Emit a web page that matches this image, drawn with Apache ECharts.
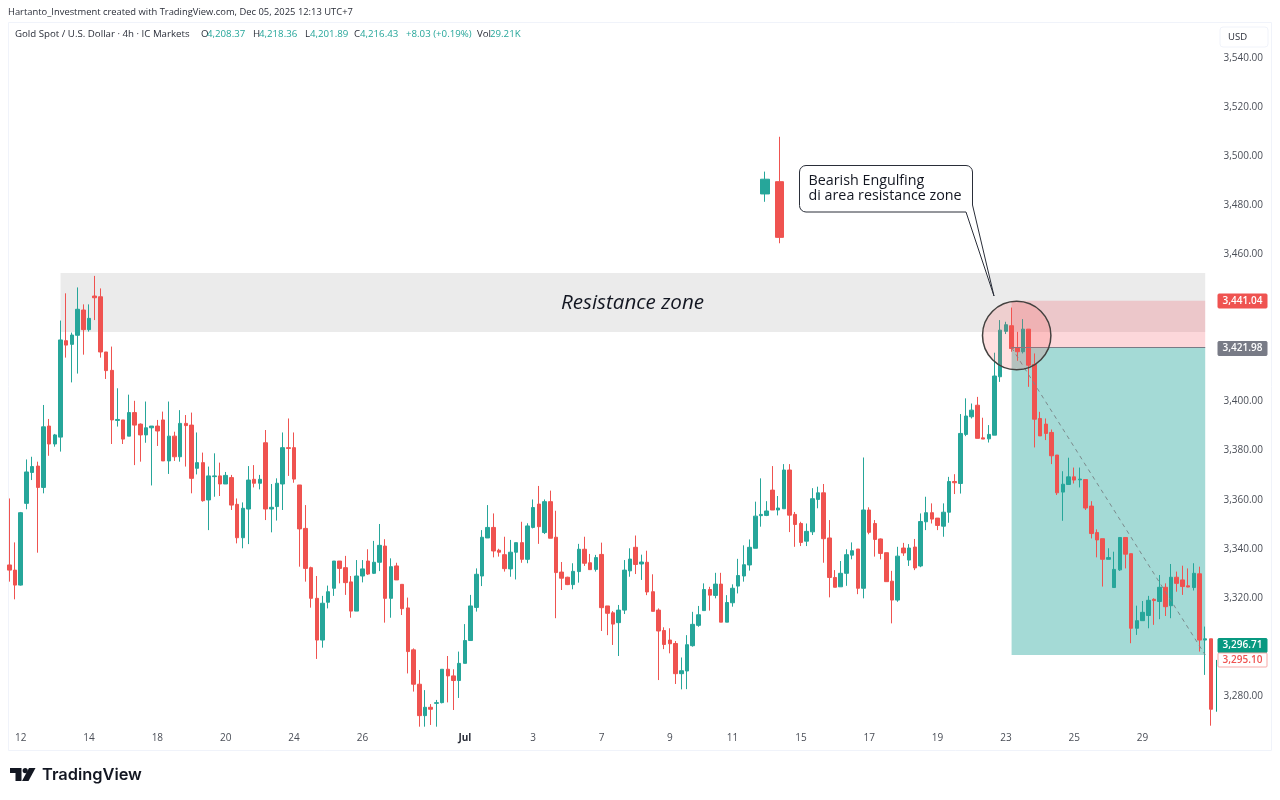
<!DOCTYPE html>
<html>
<head>
<meta charset="utf-8">
<title>Gold Spot / U.S. Dollar</title>
<script src="https://cdn.jsdelivr.net/npm/echarts@6/dist/echarts.min.js"></script>
<style>
	html, body { margin: 0; padding: 0; background: #fff; }
	#chart { width: 1280px; height: 800px; }
</style>
</head>
<body>
<div id="chart"></div>
<script>
const opens = [
	3333.4,3331.3,3325.2,3358.5,3371.1,3373.7,3365.0,3390.0,3382.7,3385.5,
	3424.8,3423.3,3427.0,3437.3,3429.3,3443.0,3442.7,3420.2,3412.7,3392.3,
	3392.5,3385.9,3395.5,3390.8,3386.4,3389.3,3390.0,3392.5,3375.8,3385.9,
	3377.5,3391.1,3390.4,3372.8,3375.1,3359.9,3369.4,3369.7,3366.4,3369.0,
	3358.1,3344.5,3356.2,3368.3,3366.7,3383.2,3356.2,3357.2,3366.4,3381.2,
	3381.2,3366.0,3348.3,3332.3,3319.8,3302.8,3318.2,3323.9,3335.0,3332.3,
	3326.5,3314.6,3328.9,3335.0,3330.0,3334.5,3341.1,3319.8,3333.0,3325.5,
	3315.9,3298.8,3284.8,3272.0,3275.4,3277.0,3277.3,3290.9,3288.2,3286.3,
	3293.3,3302.6,3316.1,3328.9,3344.4,3348.7,3339.4,3337.6,3331.8,3338.6,
	3342.5,3335.7,3348.7,3358.2,3346.6,3359.2,3344.7,3330.5,3328.4,3325.4,
	3330.7,3339.8,3334.3,3331.6,3337.7,3316.7,3313.9,3309.9,3315.0,3331.0,
	3340.6,3333.8,3334.5,3322.5,3315.0,3306.7,3302.8,3301.4,3289.1,3290.2,
	3300.5,3308.8,3314.8,3323.4,3321.0,3325.6,3310.1,3318.0,3324.8,3328.9,
	3333.4,3340.2,3353.5,3353.6,3363.9,3355.8,3356.3,3372.1,3354.0,3350.3,
	3343.1,3346.9,3360.1,3362.8,3344.4,3328.3,3324.5,3330.0,3337.4,3339.9,
	3323.9,3355.8,3350.3,3344.0,3338.4,3326.8,3319.1,3340.3,3335.4,3340.7,
	3333.0,3351.0,3354.7,3352.5,3349.2,3354.9,3367.4,3366.6,3386.6,3393.8,
	3398.5,3385.2,3384.8,3386.3,3410.1,3428.6,3430.9,3421.9,3420.3,3429.5,
	3415.1,3393.1,3390.8,3387.4,3378.2,3363.1,3366.2,3369.3,3368.1,3368.2,
	3357.4,3346.6,3344.1,3335.7,3324.2,3331.4,3344.6,3338.0,3307.6,3310.7,
	3312.8,3319.4,3318.5,3324.3,3316.8,3328.4,3327.3,3324.9,3324.2,3329.8,
	3302.8,3303.3
]
const closes = [
	3331.3,3325.2,3354.7,3371.3,3373.5,3365.0,3389.7,3382.7,3386.4,3425.1,
	3423.0,3427.1,3437.6,3429.3,3433.9,3442.3,3420.2,3412.6,3392.5,3392.7,
	3384.7,3395.5,3390.4,3386.4,3389.3,3390.0,3388.0,3375.8,3385.9,3377.5,
	3391.1,3390.2,3368.7,3375.1,3359.6,3369.7,3369.7,3366.4,3369.9,3357.8,
	3344.5,3356.5,3368.0,3366.7,3368.3,3356.2,3356.9,3366.7,3381.2,3380.9,
	3368.4,3348.1,3332.0,3319.8,3302.8,3317.8,3322.5,3335.0,3332.0,3326.2,
	3314.6,3328.9,3331.8,3329.7,3334.5,3341.4,3319.8,3332.7,3327.3,3315.6,
	3298.1,3284.8,3272.0,3275.4,3274.6,3277.3,3290.9,3288.2,3286.3,3293.3,
	3302.6,3316.7,3329.6,3344.7,3348.7,3339.1,3338.6,3331.9,3338.6,3342.5,
	3335.7,3349.3,3356.8,3349.0,3359.2,3344.3,3330.3,3328.0,3325.4,3330.8,
	3339.8,3334.1,3331.5,3336.4,3316.0,3313.7,3309.3,3315.0,3331.3,3335.8,
	3333.6,3334.6,3322.4,3314.5,3306.5,3301.0,3301.3,3289.1,3290.3,3300.9,
	3309.2,3313.1,3323.4,3321.1,3325.6,3310.1,3318.1,3323.9,3329.1,3333.5,
	3340.6,3353.3,3354.0,3355.4,3355.8,3356.6,3372.1,3353.7,3349.9,3342.6,
	3347.1,3360.4,3362.8,3344.1,3328.3,3324.3,3330.0,3337.6,3339.2,3323.9,
	3355.8,3346.7,3343.8,3338.1,3326.6,3319.1,3337.0,3338.3,3340.3,3332.2,
	3351.1,3354.7,3352.1,3349.5,3354.9,3367.4,3366.9,3387.0,3394.1,3396.5,
	3385.0,3384.7,3386.6,3410.4,3429.1,3431.3,3421.6,3420.3,3429.5,3414.8,
	3392.8,3386.0,3387.0,3377.9,3362.8,3366.3,3369.3,3368.0,3368.4,3356.6,
	3346.2,3343.6,3335.7,3336.4,3331.6,3344.6,3337.8,3307.6,3310.7,3314.1,
	3319.0,3318.9,3324.3,3316.4,3328.4,3325.9,3324.6,3324.4,3330.0,3302.8,
	3303.3,3274.6
]
const highs = [
	3360.5,3342.6,3355.0,3376.4,3377.5,3375.5,3398.6,3392.9,3386.8,3433.0,
	3444.1,3428.1,3446.5,3439.6,3439.6,3451.2,3446.1,3420.2,3422.4,3405.4,
	3392.5,3402.8,3400.3,3391.1,3400.0,3390.0,3392.5,3395.9,3400.0,3387.7,
	3396.5,3394.5,3395.5,3387.4,3379.2,3373.5,3378.9,3375.1,3371.3,3370.1,
	3360.5,3358.9,3373.7,3374.1,3370.1,3388.4,3366.4,3368.7,3387.4,3393.1,
	3387.4,3366.0,3357.8,3332.7,3328.9,3320.8,3325.0,3335.0,3335.0,3337.1,
	3328.9,3335.4,3335.4,3339.8,3343.2,3350.1,3343.9,3336.1,3334.3,3325.5,
	3320.1,3299.4,3290.6,3282.4,3276.7,3278.4,3290.9,3296.3,3290.9,3298.1,
	3309.3,3321.2,3332.0,3347.6,3357.8,3354.4,3340.0,3344.9,3343.6,3342.5,
	3351.0,3350.4,3360.1,3365.6,3360.1,3363.7,3355.5,3334.6,3328.6,3334.1,
	3342.0,3344.9,3337.9,3337.5,3342.5,3316.7,3314.6,3317.1,3335.4,3340.2,
	3345.4,3337.6,3339.2,3329.6,3315.7,3308.0,3307.6,3302.4,3295.7,3304.8,
	3314.3,3316.7,3325.9,3324.5,3330.2,3330.2,3321.1,3325.5,3335.9,3341.4,
	3343.8,3359.2,3368.7,3359.4,3373.7,3361.5,3374.5,3374.5,3355.0,3351.0,
	3350.3,3364.7,3365.3,3366.4,3351.7,3331.3,3335.0,3339.8,3342.6,3339.9,
	3377.2,3356.9,3351.7,3344.2,3338.4,3331.0,3340.8,3342.4,3341.9,3344.0,
	3354.4,3361.2,3358.5,3352.5,3358.5,3369.3,3370.4,3394.9,3401.3,3399.2,
	3401.9,3393.4,3390.4,3419.9,3433.2,3432.5,3438.3,3428.4,3433.6,3429.5,
	3419.6,3395.8,3393.1,3388.6,3378.2,3371.6,3377.1,3373.1,3373.1,3368.2,
	3359.4,3347.9,3344.1,3340.2,3338.8,3344.6,3344.6,3338.0,3316.8,3318.7,
	3320.8,3319.8,3329.3,3325.9,3333.8,3330.7,3333.1,3332.0,3334.1,3332.7,
	3308.3,3303.3
]
const lows = [
	3326.6,3319.4,3325.0,3356.1,3368.0,3338.4,3362.6,3377.9,3381.6,3379.6,
	3417.9,3407.8,3411.4,3419.1,3428.5,3433.2,3417.9,3409.2,3382.7,3389.8,
	3382.7,3385.9,3374.1,3375.5,3383.2,3365.8,3381.9,3375.8,3370.5,3375.8,
	3375.5,3373.5,3362.6,3370.3,3359.2,3347.6,3361.2,3361.5,3366.4,3355.8,
	3342.2,3340.2,3341.9,3365.0,3364.2,3351.7,3346.7,3351.5,3355.8,3369.7,
	3366.9,3332.7,3326.6,3316.0,3295.1,3299.7,3315.7,3320.8,3325.9,3321.2,
	3311.9,3314.6,3326.3,3329.3,3329.7,3330.9,3309.9,3311.9,3327.3,3313.0,
	3289.2,3281.8,3267.5,3267.5,3268.2,3267.5,3277.0,3277.4,3274.3,3279.2,
	3293.3,3302.6,3314.4,3324.8,3344.4,3336.5,3336.8,3330.7,3328.6,3327.5,
	3334.3,3334.1,3348.3,3342.0,3346.0,3344.3,3311.7,3323.2,3325.2,3323.5,
	3326.2,3333.0,3331.5,3330.7,3306.5,3304.8,3300.8,3296.3,3313.4,3328.6,
	3329.7,3327.3,3321.1,3314.5,3286.5,3299.1,3297.4,3284.9,3282.7,3282.8,
	3300.1,3308.2,3314.8,3314.8,3319.8,3310.1,3310.1,3316.4,3321.8,3326.6,
	3331.1,3340.2,3349.0,3353.3,3355.8,3353.6,3356.3,3346.8,3340.8,3341.1,
	3341.1,3345.6,3356.5,3334.3,3320.2,3324.3,3324.5,3324.9,3335.7,3321.5,
	3319.8,3345.9,3336.8,3335.7,3326.6,3309.6,3318.4,3337.1,3333.0,3331.3,
	3332.5,3347.6,3350.3,3347.6,3344.9,3350.6,3362.3,3362.5,3385.9,3393.1,
	3385.0,3384.7,3383.3,3386.3,3408.0,3427.5,3420.3,3416.6,3419.6,3406.0,
	3381.3,3386.0,3384.3,3374.5,3361.9,3351.4,3366.2,3366.6,3365.0,3355.8,
	3344.2,3336.5,3324.6,3335.7,3324.2,3331.0,3332.0,3301.5,3304.9,3310.7,
	3307.6,3309.0,3311.3,3312.6,3311.7,3322.5,3321.2,3324.3,3323.0,3298.1,
	3288.6,3267.9
]
// the bar still forming at the right edge is only a thin line in the picture
const lastBar = [3273.6, 3294.7, 3273.6, 3294.7]

const tickBars = [2, 14, 26, 38, 50, 62, 80, 92, 104, 116, 127, 139, 151, 163, 175, 187, 199]
const tickLabels = ['12', '14', '18', '20', '24', '26', 'Jul', '3', '7', '9', '11', '15', '17', '19', '23', '25', '29']

// the two candles drawn by hand above the zone
const insetOpens = [3484.6, 3489.6]
const insetCloses = [3490.6, 3466.9]
const insetLows = [3481.4, 3464.5]
const insetHighs = [3493.7, 3507.9]

const zoneTop = 3452.4
const zoneBottom = 3428.3
const stopPrice = 3441.04
const entryPrice = 3421.98
const targetPrice = 3296.71
const entryBar = 176
const exitBar = 210
const zoneStartBar = 9

const priceMin = 3260
const priceMax = 3560

const up = '#26a69a'
const down = '#ef5350'
const font = '"Open Sans", sans-serif'

const barCount = opens.length + 1
const categories = []
for (let i = 0; i < barCount; i++) {
	const at = tickBars.indexOf(i)
	categories.push(at === -1 ? '' : tickLabels[at])
}

function text(x, y, value, fill, size, extra) {
	return {
		type: 'text',
		silent: true,
		z: 20,
		style: Object.assign({
			x, y,
			text: value,
			fill: fill || '#2a2e39',
			fontSize: size || 10,
			fontFamily: font,
			verticalAlign: 'middle'
		}, extra)
	}
}

function priceTag(y, value, fill, stroke, color) {
	return [{
		type: 'rect',
		silent: true,
		z: 19,
		shape: { x: 1218, y: y - 7, width: 49, height: 14, r: 1 },
		style: { fill, stroke, lineWidth: 1 }
	}, text(1242.5, y, value, color, 10, { align: 'center', fontWeight: 600 })]
}

// quarter circle of points for the callout corners
function corner(cx, cy, r, from) {
	const points = []
	for (let i = 0; i <= 4; i++) {
		const a = (from + i * 22.5) * Math.PI / 180
		points.push([cx + r * Math.cos(a), cy + r * Math.sin(a)])
	}
	return points
}

const calloutPoints = [
	...corner(806, 172, 6.5, 180),
	...corner(966, 172, 6.5, 270),
	[972.5, 205], [994, 296], [966, 212],
	...corner(806, 205.5, 6.5, 90)
]

const legendValues = [
	[201, 'O', '#2a2e39'], [207, '4,208.37', up],
	[253, 'H', '#2a2e39'], [259, '4,218.36', up],
	[305, 'L', '#2a2e39'], [310, '4,201.89', up],
	[354, 'C', '#2a2e39'], [360, '4,216.43', up],
	[406, '+8.03 (+0.19%)', up],
	[477, 'Vol', '#2a2e39'], [490, '29.21K', up]
]

const graphics = [
	{
		type: 'rect', silent: true, z: 0,
		shape: { x: 8.5, y: 22.5, width: 1263, height: 728 },
		style: { fill: 'none', stroke: '#f0f3fa', lineWidth: 1 }
	},
	{
		type: 'rect', silent: true, z: 20,
		shape: { x: 1220, y: 27, width: 48, height: 20, r: 3 },
		style: { fill: '#fff', stroke: '#f0f3fa', lineWidth: 1 }
	},
	text(1228, 37.5, 'USD', '#2a2e39', 9.5),
	text(8, 12.5, 'Hartanto_Investment created with TradingView.com, Dec 05, 2025 12:13 UTC+7', '#2a2e39', 9.4),
	text(15, 34.5, 'Gold Spot / U.S. Dollar · 4h · IC Markets', '#2a2e39', 9.7),
	text(561, 303.5, 'Resistance zone', '#131722', 20.6, { fontStyle: 'italic' }),
	{
		// the circle around the engulfing candles
		type: 'circle', silent: true, z: 18,
		shape: { cx: 1016.7, cy: 335.5, r: 34.2 },
		style: { fill: 'rgba(255,82,82,0.18)', stroke: '#43413f', lineWidth: 1.5 }
	},
	{
		type: 'polygon', silent: true, z: 18,
		shape: { points: calloutPoints },
		style: { fill: '#fff', stroke: '#2a2e39', lineWidth: 1 }
	},
	text(808.5, 181, 'Bearish Engulfing', '#131722', 14.3),
	text(808.5, 196, 'di area resistance zone', '#131722', 14.3),
	// logo
	{
		type: 'polygon', silent: true, z: 20,
		shape: { points: [[10, 768], [21.5, 768], [21.5, 781], [15.5, 781], [15.5, 773], [10, 773]] },
		style: { fill: '#131722' }
	},
	{
		type: 'polygon', silent: true, z: 20,
		shape: { points: [[29, 768], [35.5, 768], [28.5, 781], [22, 781]] },
		style: { fill: '#131722' }
	},
	{
		type: 'circle', silent: true, z: 20,
		shape: { cx: 25.2, cy: 770.6, r: 2.6 },
		style: { fill: '#131722' }
	},
	text(42, 775, 'TradingView', '#131722', 16.4, { fontFamily: 'Inter, sans-serif', fontWeight: 600 })
]
legendValues.forEach(item => graphics.push(text(item[0], 34.5, item[1], item[2], 9.7)))
graphics.push(...priceTag(301, '3,441.04', down, down, '#fff'))
graphics.push(...priceTag(348.5, '3,421.98', '#787b86', '#787b86', '#fff'))
graphics.push(...priceTag(645.5, '3,296.71', '#089981', '#089981', '#fff'))
graphics.push(...priceTag(660, '3,295.10', '#fff', '#f7a9a7', down))

const chart = echarts.init(document.getElementById('chart'), null, { renderer: 'canvas' })
chart.setOption({
	animation: false,
	backgroundColor: '#fff',
	grid: [
		{ left: 6.45, width: 1213, top: 8.92, height: 736.16 },
		{ left: 757.65, width: 29.4, top: 8.92, height: 736.16 }
	],
	xAxis: [{
		type: 'category',
		data: categories,
		offset: -16,
		axisLine: { show: false },
		axisTick: { show: false },
		splitLine: { show: false },
		axisLabel: {
			interval: 0,
			margin: 4,
			color: '#4a4e57',
			fontFamily: font,
			fontSize: 10,
			hideOverlap: false,
			formatter: value => value === 'Jul' ? '{b|Jul}' : value,
			rich: { b: { fontWeight: 700, color: '#2a2e39', fontFamily: font, fontSize: 10 } }
		}
	}, {
		type: 'category',
		gridIndex: 1,
		data: ['a', 'b'],
		show: false
	}],
	yAxis: [{
		type: 'value',
		position: 'right',
		min: priceMin,
		max: priceMax,
		interval: 20,
		axisLine: { show: false },
		axisTick: { show: false },
		splitLine: { show: false },
		axisLabel: {
			margin: 4,
			padding: [2, 0, 0, 0],
			color: '#4a4e57',
			fontFamily: font,
			fontSize: 10,
			formatter: value => (value === priceMin || value === priceMax) ? '' : value.toLocaleString('en-US', { minimumFractionDigits: 2 })
		}
	}, {
		type: 'value',
		gridIndex: 1,
		min: priceMin,
		max: priceMax,
		show: false
	}],
	series: [{
		name: 'XAUUSD',
		type: 'candlestick',
		silent: true,
		barWidth: 4,
		itemStyle: { color: up, color0: down, borderColor: up, borderColor0: down, borderWidth: 1 },
		data: opens.map((open, i) => [open, closes[i], lows[i], highs[i]]),
		markArea: {
			silent: true,
			data: [
				[{ coord: [zoneStartBar, zoneTop], itemStyle: { color: '#ebebeb' } }, { coord: [exitBar, zoneBottom] }],
				[{ coord: [entryBar, stopPrice], itemStyle: { color: 'rgba(242,54,69,0.2)' } }, { coord: [exitBar, entryPrice] }],
				[{ coord: [entryBar, entryPrice], itemStyle: { color: '#a4dad6' } }, { coord: [exitBar, targetPrice] }]
			]
		},
		markLine: {
			silent: true,
			symbol: 'none',
			label: { show: false },
			data: [
				[{ coord: [entryBar, entryPrice], lineStyle: { color: '#787b86', width: 1, type: 'solid' } }, { coord: [exitBar, entryPrice] }],
				[{ coord: [entryBar, entryPrice], lineStyle: { color: '#7b8a8c', width: 1, type: [4, 4] } }, { coord: [exitBar, targetPrice] }]
			]
		}
	}, {
		name: 'last',
		type: 'candlestick',
		silent: true,
		barWidth: 1,
		itemStyle: { color: '#089981', color0: '#089981', borderColor: '#089981', borderColor0: '#089981', borderWidth: 1 },
		data: categories.map((c, i) => i === barCount - 1 ? lastBar : ['-', '-', '-', '-'])
	}, {
		name: 'inset',
		type: 'candlestick',
		xAxisIndex: 1,
		yAxisIndex: 1,
		silent: true,
		barWidth: 9,
		itemStyle: { color: up, color0: down, borderColor: up, borderColor0: down, borderWidth: 1 },
		data: insetOpens.map((open, i) => [open, insetCloses[i], insetLows[i], insetHighs[i]])
	}],
	graphic: graphics
})
</script>
</body>
</html>
